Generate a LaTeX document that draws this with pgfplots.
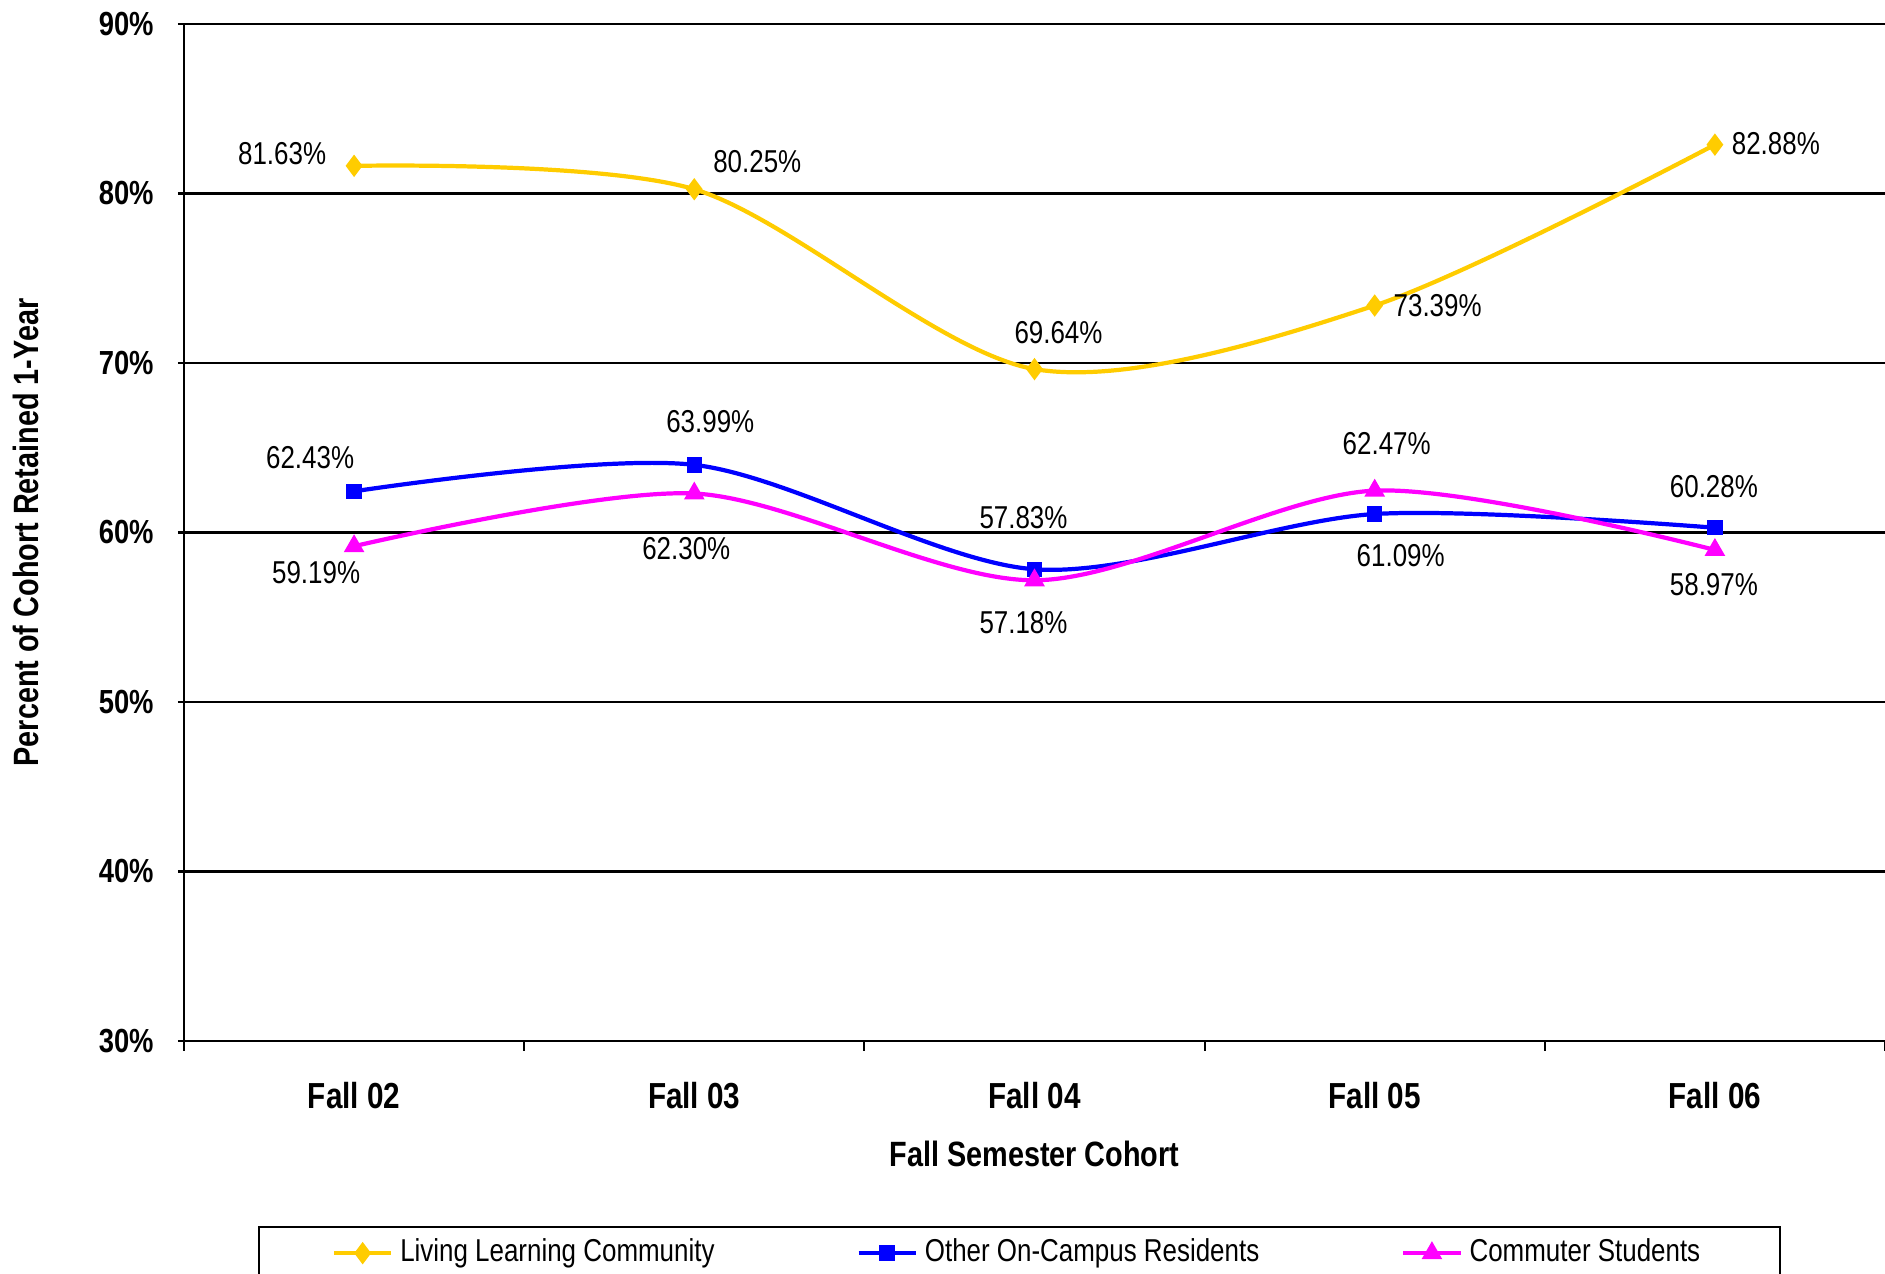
\documentclass[border=0pt]{standalone}
\usepackage{fontspec}
\setmainfont{Liberation Sans}[FakeStretch=0.82]
\usepackage{pgfplots}
\usepackage{pgfplotstable}
\pgfplotsset{compat=1.18}
\definecolor{llcyellow}{HTML}{FFCC00}
\definecolor{ocblue}{HTML}{0000FF}
\definecolor{cmmagenta}{HTML}{FF00FF}

% x y and label offsets (dx, dy in 0.01cm)
\pgfplotstableread{
x y dx dy
1 81.63 -72 12
2 80.25 63 28
3 69.64 24 37
4 73.39 63 0
5 82.88 61 1
}\llc
\pgfplotstableread{
x y dx dy
1 62.43 -44 34
2 63.99 16 43
3 57.83 -11 52
4 61.09 26 -42
5 60.28 -1 41
}\oncampus
\pgfplotstableread{
x y dx dy
1 59.19 -38 -26
2 62.30 -8 -55
3 57.18 -11 -42
4 62.47 12 47
5 58.97 -1 -35
}\commuter

\begin{document}
\begin{tikzpicture}
\begin{axis}[
  scale only axis,
  width=17.01cm, height=10.17cm,
  xmin=0.5, xmax=5.5,
  ymin=30, ymax=90,
  axis lines*=left,
  axis line style={black, line width=0.6pt},
  xtick={1,2,3,4,5},
  xticklabels={Fall 02,Fall 03,Fall 04,Fall 05,Fall 06},
  minor xtick={0.5,1.5,2.5,3.5,4.5,5.5},
  every major x tick/.append style={draw=none},
  ytick={30,40,50,60,70,80,90},
  yticklabels={30\%,40\%,50\%,60\%,70\%,80\%,90\%},
  tick align=outside,
  major tick length=0.06cm,
  minor tick length=0.1cm,
  tick style={black, line width=0.6pt},
  ymajorgrids,
  grid style={black, line width=0.6pt},
  xticklabel style={font=\fontsize{10.3}{12}\selectfont\bfseries, anchor=center, yshift=-0.49cm},
  yticklabel style={font=\fontsize{9.5}{11}\selectfont\bfseries, anchor=east, xshift=-0.12cm},
  xlabel={Fall Semester Cohort},
  ylabel={Percent of Cohort Retained 1-Year},
  every axis x label/.style={at={(axis description cs:0.5,-0.1111)}, anchor=center,
    font=\fontsize{10}{12}\selectfont\bfseries},
  every axis y label/.style={at={(axis description cs:-0.0929,0.5)}, anchor=center, rotate=90,
    font=\fontsize{10}{12}\selectfont\bfseries},
  /pgf/number format/assume math mode=true,
  point meta=y,
  nodes near coords={\pgfmathprintnumber[fixed,precision=2,zerofill]{\pgfplotspointmeta}\%},
  visualization depends on={\thisrow{dx} \as \dx},
  visualization depends on={\thisrow{dy} \as \dy},
  nodes near coords style={anchor=center, font=\fontsize{9}{11}\selectfont, text=black,
    xshift=\dx*0.01cm, yshift=\dy*0.01cm},
  every axis plot/.append style={line width=1.2pt, smooth},
  legend style={at={(axis description cs:0.0435,-0.1819)}, anchor=north west,
    draw=black, line width=0.6pt, font=\fontsize{9}{11}\selectfont,
    legend columns=3, inner xsep=0.73cm, inner ysep=0.05cm,
    /tikz/every even column/.append style={column sep=1.35cm}},
  legend cell align=left,
  legend image code/.code={\draw[#1, line width=1.2pt, mark repeat=2, mark phase=2]
    plot coordinates {(0cm,0cm) (0.285cm,0cm) (0.57cm,0cm)};},
]
\addplot[color=llcyellow, mark=diamond*, mark size=2.2pt, mark options={solid, fill=llcyellow}]
  table[x=x, y=y] {\llc};
\addlegendentry{Living Learning Community}
\addplot[color=ocblue, mark=square*, mark size=1.6pt, mark options={solid, fill=ocblue}]
  table[x=x, y=y] {\oncampus};
\addlegendentry{Other On-Campus Residents}
\addplot[color=cmmagenta, mark=triangle*, mark size=2.2pt, mark options={solid, fill=cmmagenta}]
  table[x=x, y=y] {\commuter};
\addlegendentry{Commuter Students}
\coordinate (bl) at (rel axis cs:0,0);
\coordinate (tr) at (rel axis cs:1,1);
\end{axis}
\pgfresetboundingbox
\path ([xshift=-1.84cm,yshift=-2.33cm]bl) rectangle ([yshift=0.24cm]tr);
\end{tikzpicture}
\end{document}
